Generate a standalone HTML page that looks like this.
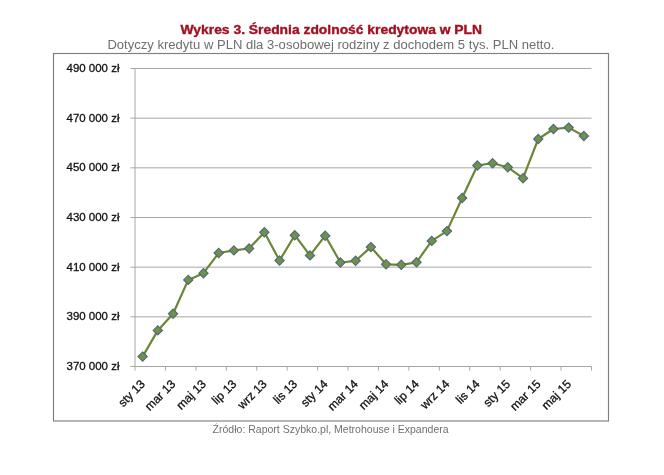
<!DOCTYPE html>
<html><head><meta charset="utf-8"><style>
html,body{margin:0;padding:0;background:#fff;}
svg{display:block;-webkit-font-smoothing:antialiased;will-change:transform;}
text{font-family:"Liberation Sans",sans-serif;}
.yl{font-size:11.5px;fill:#111;stroke:#111;stroke-width:0.3px;}
.xl{font-size:12px;fill:#111;stroke:#111;stroke-width:0.3px;}
.t1{font-size:12px;font-weight:bold;fill:#a0101e;stroke:#a0101e;stroke-width:0.35px;}
.t2{font-size:12.3px;fill:#6e6e6e;}
.t3{font-size:11.8px;fill:#707070;}
</style></head><body>
<svg width="664" height="475" viewBox="0 0 664 475">
<rect x="53.5" y="53.5" width="555" height="367.5" fill="none" stroke="#7f7f7f" stroke-width="1.15"/>
<line x1="135.0" y1="68.50" x2="591.5" y2="68.50" stroke="#a6a6a6" stroke-width="1"/>
<line x1="135.0" y1="118.17" x2="591.5" y2="118.17" stroke="#a6a6a6" stroke-width="1"/>
<line x1="135.0" y1="167.83" x2="591.5" y2="167.83" stroke="#a6a6a6" stroke-width="1"/>
<line x1="135.0" y1="217.50" x2="591.5" y2="217.50" stroke="#a6a6a6" stroke-width="1"/>
<line x1="135.0" y1="267.17" x2="591.5" y2="267.17" stroke="#a6a6a6" stroke-width="1"/>
<line x1="135.0" y1="316.83" x2="591.5" y2="316.83" stroke="#a6a6a6" stroke-width="1"/>
<line x1="130.5" y1="68.50" x2="135.0" y2="68.50" stroke="#a6a6a6" stroke-width="1"/>
<line x1="130.5" y1="118.17" x2="135.0" y2="118.17" stroke="#a6a6a6" stroke-width="1"/>
<line x1="130.5" y1="167.83" x2="135.0" y2="167.83" stroke="#a6a6a6" stroke-width="1"/>
<line x1="130.5" y1="217.50" x2="135.0" y2="217.50" stroke="#a6a6a6" stroke-width="1"/>
<line x1="130.5" y1="267.17" x2="135.0" y2="267.17" stroke="#a6a6a6" stroke-width="1"/>
<line x1="130.5" y1="316.83" x2="135.0" y2="316.83" stroke="#a6a6a6" stroke-width="1"/>
<line x1="130.5" y1="366.50" x2="135.0" y2="366.50" stroke="#a6a6a6" stroke-width="1"/>
<line x1="135.0" y1="68.50" x2="135.0" y2="366.50" stroke="#a6a6a6" stroke-width="1"/>
<line x1="130.5" y1="366.50" x2="591.5" y2="366.50" stroke="#a6a6a6" stroke-width="1"/>
<line x1="135.00" y1="366.50" x2="135.00" y2="370.50" stroke="#a6a6a6" stroke-width="1"/>
<line x1="165.43" y1="366.50" x2="165.43" y2="370.50" stroke="#a6a6a6" stroke-width="1"/>
<line x1="195.87" y1="366.50" x2="195.87" y2="370.50" stroke="#a6a6a6" stroke-width="1"/>
<line x1="226.30" y1="366.50" x2="226.30" y2="370.50" stroke="#a6a6a6" stroke-width="1"/>
<line x1="256.73" y1="366.50" x2="256.73" y2="370.50" stroke="#a6a6a6" stroke-width="1"/>
<line x1="287.17" y1="366.50" x2="287.17" y2="370.50" stroke="#a6a6a6" stroke-width="1"/>
<line x1="317.60" y1="366.50" x2="317.60" y2="370.50" stroke="#a6a6a6" stroke-width="1"/>
<line x1="348.03" y1="366.50" x2="348.03" y2="370.50" stroke="#a6a6a6" stroke-width="1"/>
<line x1="378.47" y1="366.50" x2="378.47" y2="370.50" stroke="#a6a6a6" stroke-width="1"/>
<line x1="408.90" y1="366.50" x2="408.90" y2="370.50" stroke="#a6a6a6" stroke-width="1"/>
<line x1="439.33" y1="366.50" x2="439.33" y2="370.50" stroke="#a6a6a6" stroke-width="1"/>
<line x1="469.77" y1="366.50" x2="469.77" y2="370.50" stroke="#a6a6a6" stroke-width="1"/>
<line x1="500.20" y1="366.50" x2="500.20" y2="370.50" stroke="#a6a6a6" stroke-width="1"/>
<line x1="530.63" y1="366.50" x2="530.63" y2="370.50" stroke="#a6a6a6" stroke-width="1"/>
<line x1="561.07" y1="366.50" x2="561.07" y2="370.50" stroke="#a6a6a6" stroke-width="1"/>
<line x1="591.50" y1="366.50" x2="591.50" y2="370.50" stroke="#a6a6a6" stroke-width="1"/>
<text x="119.5" y="72.10" text-anchor="end" class="yl" textLength="53" lengthAdjust="spacingAndGlyphs">490 000 zł</text>
<text x="119.5" y="121.77" text-anchor="end" class="yl" textLength="53" lengthAdjust="spacingAndGlyphs">470 000 zł</text>
<text x="119.5" y="171.43" text-anchor="end" class="yl" textLength="53" lengthAdjust="spacingAndGlyphs">450 000 zł</text>
<text x="119.5" y="221.10" text-anchor="end" class="yl" textLength="53" lengthAdjust="spacingAndGlyphs">430 000 zł</text>
<text x="119.5" y="270.77" text-anchor="end" class="yl" textLength="53" lengthAdjust="spacingAndGlyphs">410 000 zł</text>
<text x="119.5" y="320.43" text-anchor="end" class="yl" textLength="53" lengthAdjust="spacingAndGlyphs">390 000 zł</text>
<text x="119.5" y="370.10" text-anchor="end" class="yl" textLength="53" lengthAdjust="spacingAndGlyphs">370 000 zł</text>
<text x="145.81" y="384.80" text-anchor="end" class="xl" transform="rotate(-45 145.81 384.80)">sty 13</text>
<text x="176.24" y="384.80" text-anchor="end" class="xl" transform="rotate(-45 176.24 384.80)">mar 13</text>
<text x="206.67" y="384.80" text-anchor="end" class="xl" transform="rotate(-45 206.67 384.80)">maj 13</text>
<text x="237.11" y="384.80" text-anchor="end" class="xl" transform="rotate(-45 237.11 384.80)">lip 13</text>
<text x="267.54" y="384.80" text-anchor="end" class="xl" transform="rotate(-45 267.54 384.80)">wrz 13</text>
<text x="297.97" y="384.80" text-anchor="end" class="xl" transform="rotate(-45 297.97 384.80)">lis 13</text>
<text x="328.41" y="384.80" text-anchor="end" class="xl" transform="rotate(-45 328.41 384.80)">sty 14</text>
<text x="358.84" y="384.80" text-anchor="end" class="xl" transform="rotate(-45 358.84 384.80)">mar 14</text>
<text x="389.27" y="384.80" text-anchor="end" class="xl" transform="rotate(-45 389.27 384.80)">maj 14</text>
<text x="419.71" y="384.80" text-anchor="end" class="xl" transform="rotate(-45 419.71 384.80)">lip 14</text>
<text x="450.14" y="384.80" text-anchor="end" class="xl" transform="rotate(-45 450.14 384.80)">wrz 14</text>
<text x="480.57" y="384.80" text-anchor="end" class="xl" transform="rotate(-45 480.57 384.80)">lis 14</text>
<text x="511.01" y="384.80" text-anchor="end" class="xl" transform="rotate(-45 511.01 384.80)">sty 15</text>
<text x="541.44" y="384.80" text-anchor="end" class="xl" transform="rotate(-45 541.44 384.80)">mar 15</text>
<text x="571.88" y="384.80" text-anchor="end" class="xl" transform="rotate(-45 571.88 384.80)">maj 15</text>
<polyline points="142.61,356.60 157.82,330.40 173.04,313.70 188.26,279.90 203.47,273.20 218.69,253.00 233.91,250.40 249.12,248.50 264.34,232.30 279.56,260.50 294.77,235.20 309.99,255.40 325.21,235.70 340.43,262.50 355.64,260.80 370.86,247.10 386.07,264.30 401.29,264.80 416.51,262.30 431.73,240.90 446.94,231.10 462.16,198.00 477.38,165.50 492.59,163.20 507.81,167.30 523.02,178.20 538.24,139.00 553.46,129.00 568.67,127.60 583.89,136.00" fill="none" stroke="#6b8636" stroke-width="2.2" stroke-linejoin="round"/>
<path d="M142.61,352.00L147.21,356.60L142.61,361.20L138.01,356.60Z" fill="#6e9347" stroke="#52697e" stroke-width="1.2"/>
<path d="M157.82,325.80L162.42,330.40L157.82,335.00L153.22,330.40Z" fill="#6e9347" stroke="#52697e" stroke-width="1.2"/>
<path d="M173.04,309.10L177.64,313.70L173.04,318.30L168.44,313.70Z" fill="#6e9347" stroke="#52697e" stroke-width="1.2"/>
<path d="M188.26,275.30L192.86,279.90L188.26,284.50L183.66,279.90Z" fill="#6e9347" stroke="#52697e" stroke-width="1.2"/>
<path d="M203.47,268.60L208.07,273.20L203.47,277.80L198.88,273.20Z" fill="#6e9347" stroke="#52697e" stroke-width="1.2"/>
<path d="M218.69,248.40L223.29,253.00L218.69,257.60L214.09,253.00Z" fill="#6e9347" stroke="#52697e" stroke-width="1.2"/>
<path d="M233.91,245.80L238.51,250.40L233.91,255.00L229.31,250.40Z" fill="#6e9347" stroke="#52697e" stroke-width="1.2"/>
<path d="M249.12,243.90L253.72,248.50L249.12,253.10L244.53,248.50Z" fill="#6e9347" stroke="#52697e" stroke-width="1.2"/>
<path d="M264.34,227.70L268.94,232.30L264.34,236.90L259.74,232.30Z" fill="#6e9347" stroke="#52697e" stroke-width="1.2"/>
<path d="M279.56,255.90L284.16,260.50L279.56,265.10L274.96,260.50Z" fill="#6e9347" stroke="#52697e" stroke-width="1.2"/>
<path d="M294.77,230.60L299.38,235.20L294.77,239.80L290.17,235.20Z" fill="#6e9347" stroke="#52697e" stroke-width="1.2"/>
<path d="M309.99,250.80L314.59,255.40L309.99,260.00L305.39,255.40Z" fill="#6e9347" stroke="#52697e" stroke-width="1.2"/>
<path d="M325.21,231.10L329.81,235.70L325.21,240.30L320.61,235.70Z" fill="#6e9347" stroke="#52697e" stroke-width="1.2"/>
<path d="M340.43,257.90L345.03,262.50L340.43,267.10L335.82,262.50Z" fill="#6e9347" stroke="#52697e" stroke-width="1.2"/>
<path d="M355.64,256.20L360.24,260.80L355.64,265.40L351.04,260.80Z" fill="#6e9347" stroke="#52697e" stroke-width="1.2"/>
<path d="M370.86,242.50L375.46,247.10L370.86,251.70L366.26,247.10Z" fill="#6e9347" stroke="#52697e" stroke-width="1.2"/>
<path d="M386.07,259.70L390.68,264.30L386.07,268.90L381.47,264.30Z" fill="#6e9347" stroke="#52697e" stroke-width="1.2"/>
<path d="M401.29,260.20L405.89,264.80L401.29,269.40L396.69,264.80Z" fill="#6e9347" stroke="#52697e" stroke-width="1.2"/>
<path d="M416.51,257.70L421.11,262.30L416.51,266.90L411.91,262.30Z" fill="#6e9347" stroke="#52697e" stroke-width="1.2"/>
<path d="M431.73,236.30L436.33,240.90L431.73,245.50L427.12,240.90Z" fill="#6e9347" stroke="#52697e" stroke-width="1.2"/>
<path d="M446.94,226.50L451.54,231.10L446.94,235.70L442.34,231.10Z" fill="#6e9347" stroke="#52697e" stroke-width="1.2"/>
<path d="M462.16,193.40L466.76,198.00L462.16,202.60L457.56,198.00Z" fill="#6e9347" stroke="#52697e" stroke-width="1.2"/>
<path d="M477.38,160.90L481.98,165.50L477.38,170.10L472.77,165.50Z" fill="#6e9347" stroke="#52697e" stroke-width="1.2"/>
<path d="M492.59,158.60L497.19,163.20L492.59,167.80L487.99,163.20Z" fill="#6e9347" stroke="#52697e" stroke-width="1.2"/>
<path d="M507.81,162.70L512.41,167.30L507.81,171.90L503.21,167.30Z" fill="#6e9347" stroke="#52697e" stroke-width="1.2"/>
<path d="M523.02,173.60L527.62,178.20L523.02,182.80L518.42,178.20Z" fill="#6e9347" stroke="#52697e" stroke-width="1.2"/>
<path d="M538.24,134.40L542.84,139.00L538.24,143.60L533.64,139.00Z" fill="#6e9347" stroke="#52697e" stroke-width="1.2"/>
<path d="M553.46,124.40L558.06,129.00L553.46,133.60L548.86,129.00Z" fill="#6e9347" stroke="#52697e" stroke-width="1.2"/>
<path d="M568.67,123.00L573.27,127.60L568.67,132.20L564.07,127.60Z" fill="#6e9347" stroke="#52697e" stroke-width="1.2"/>
<path d="M583.89,131.40L588.49,136.00L583.89,140.60L579.29,136.00Z" fill="#6e9347" stroke="#52697e" stroke-width="1.2"/>
<text x="331.3" y="34.1" text-anchor="middle" class="t1" textLength="301.5" lengthAdjust="spacingAndGlyphs">Wykres 3. Średnia zdolność kredytowa w PLN</text>
<text x="330.9" y="49.4" text-anchor="middle" class="t2" textLength="447" lengthAdjust="spacingAndGlyphs">Dotyczy kredytu w PLN dla 3-osobowej rodziny z dochodem 5 tys. PLN netto.</text>
<text x="330.6" y="432.8" text-anchor="middle" class="t3" textLength="236" lengthAdjust="spacingAndGlyphs">Źródło: Raport Szybko.pl, Metrohouse i Expandera</text>
</svg>
</body></html>
